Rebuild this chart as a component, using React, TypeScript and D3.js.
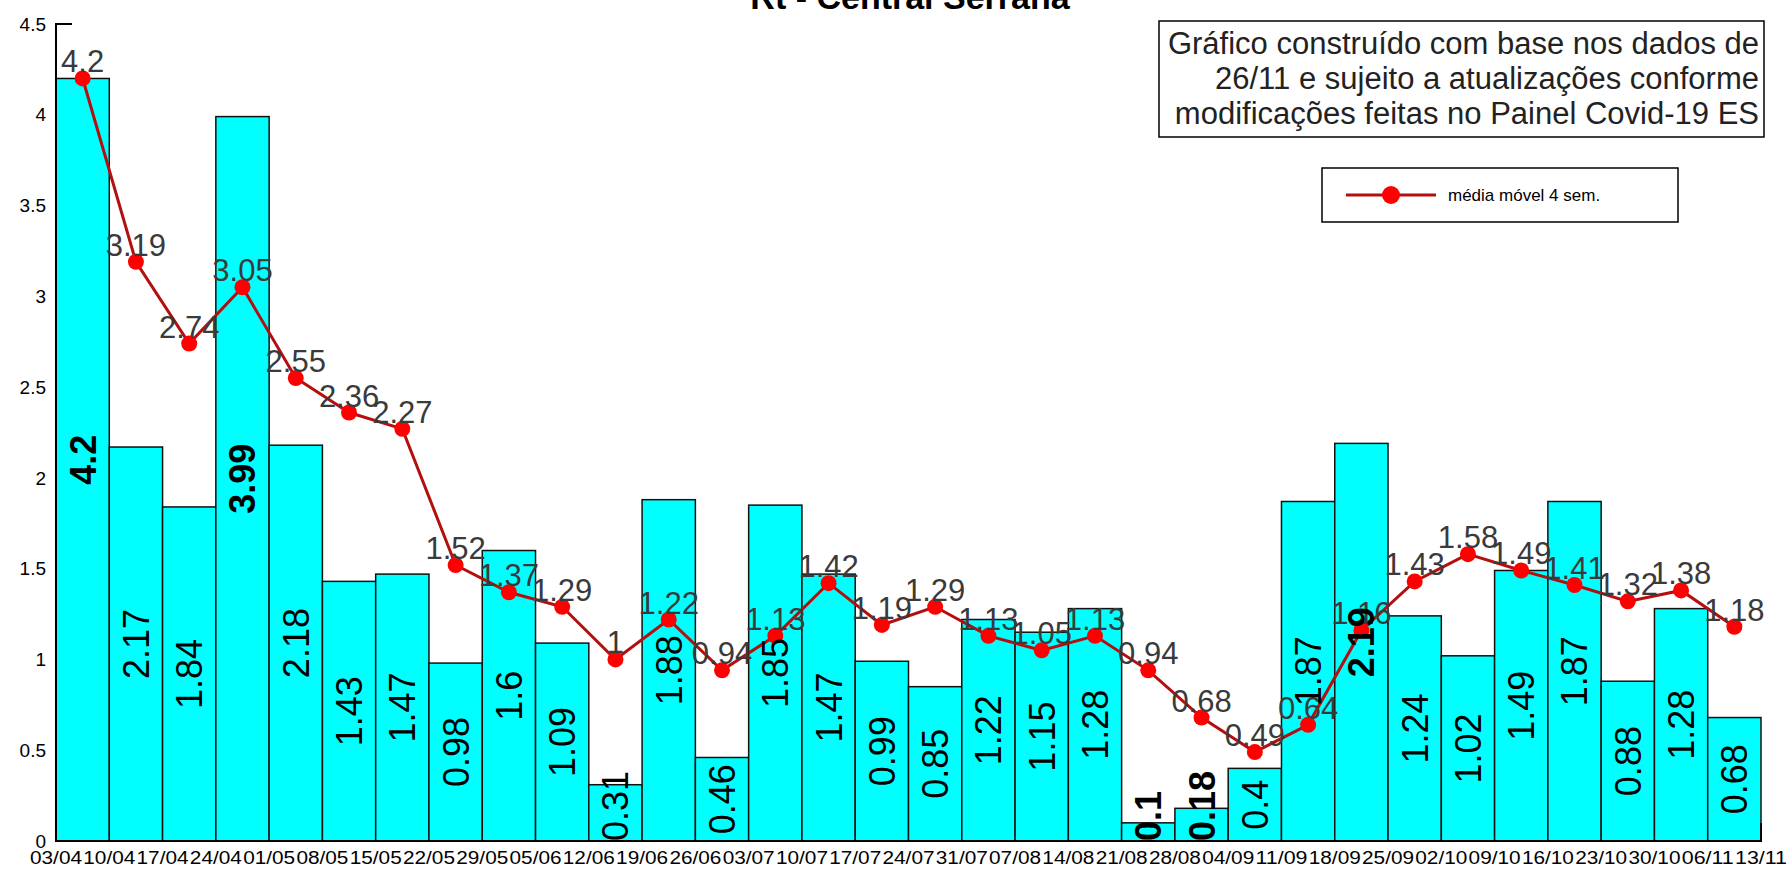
import React from "react";
import * as d3 from "d3";

const dateLabels = ["03/04","10/04","17/04","24/04","01/05","08/05","15/05","22/05","29/05","05/06","12/06","19/06","26/06","03/07","10/07","17/07","24/07","31/07","07/08","14/08","21/08","28/08","04/09","11/09","18/09","25/09","02/10","09/10","16/10","23/10","30/10","06/11","13/11"];
const weeklyRt = [4.2,2.17,1.84,3.99,2.18,1.43,1.47,0.98,1.6,1.09,0.31,1.88,0.46,1.85,1.47,0.99,0.85,1.22,1.15,1.28,0.1,0.18,0.4,1.87,2.19,1.24,1.02,1.49,1.87,0.88,1.28,0.68];
const movingAvg = [4.2,3.19,2.74,3.05,2.55,2.36,2.27,1.52,1.37,1.29,1,1.22,0.94,1.13,1.42,1.19,1.29,1.13,1.05,1.13,0.94,0.68,0.49,0.64,1.16,1.43,1.58,1.49,1.41,1.32,1.38,1.18];
const yTicks = [0,0.5,1,1.5,2,2.5,3,3.5,4,4.5];
const title = "Rt - Central Serrana";
const noteLines = ["Gráfico construído com base nos dados de","26/11 e sujeito a atualizações conforme","modificações feitas no Painel Covid-19 ES"];
const legendLabel = "média móvel 4 sem.";

const W = 1790, H = 870;
const FONT = "'Liberation Sans', Arial, sans-serif";
const boldBarLabels = new Set([0, 3, 20, 21, 24]);

export default function App() {
  const left = 56, right = 1761, top = 24, bottom = 841;
  const xb = d3.scaleLinear().domain([0, weeklyRt.length]).range([left, right]);
  const y = d3.scaleLinear().domain([0, 4.5]).range([bottom, top]);
  const cx = (i: number) => (xb(i) + xb(i + 1)) / 2;
  const line = d3.line<number>().x((_, i) => cx(i)).y((d) => y(d));
  const barFont = 36;
  const lineFont = 31;

  return (
    <svg width={W} height={H} style={{ position: "absolute", left: 0, top: 0, display: "block", background: "#fff" }} fontFamily={FONT}>
      <rect x={0} y={0} width={W} height={H} fill="#fff" />
      <text x={910} y={9} textAnchor="middle" fontWeight="bold" fontSize={34} fill="#000">{title}</text>

      {/* bars */}
      {weeklyRt.map((v, i) => (
        <rect key={"b" + i} x={xb(i)} y={y(v)} width={xb(i + 1) - xb(i)} height={bottom - y(v)} fill="#00ffff" stroke="#111" strokeWidth={1.5} />
      ))}

      {/* axes */}
      <path d={`M${left + 16},${top} H${left} V${bottom} H${right} V${bottom - 18}`} fill="none" stroke="#000" strokeWidth={2} />
      {yTicks.map((t) => (
        <text key={"yt" + t} x={46} y={y(t)} dy="0.35em" textAnchor="end" fontSize={19} fill="#000">{String(t)}</text>
      ))}
      {dateLabels.map((d, i) => (
        <text key={"xl" + i} x={xb(i)} y={864} textAnchor="middle" fontSize={18} textLength={52} lengthAdjust="spacingAndGlyphs" fill="#000">{d}</text>
      ))}

      {/* moving average line */}
      <path d={line(movingAvg) || ""} fill="none" stroke="#b40f0f" strokeWidth={3} />
      {movingAvg.map((v, i) => (
        <circle key={"m" + i} cx={cx(i)} cy={y(v)} r={8} fill="#ff0000" />
      ))}
      {movingAvg.map((v, i) => (
        <text key={"ml" + i} x={cx(i)} y={y(v) - 6} textAnchor="middle" fontSize={lineFont} fill="#3a3a3a">{String(v)}</text>
      ))}

      {/* bar labels */}
      {weeklyRt.map((v, i) => {
        const s = String(v);
        const len = (s.length - 1) * 0.556 * barFont + 0.278 * barFont;
        let mid = (y(v) + bottom) / 2;
        if (mid + len / 2 > bottom) mid = bottom - len / 2;
        return (
          <text key={"bl" + i} transform={`translate(${cx(i) + barFont * 0.36},${mid}) rotate(-90)`} textAnchor="middle" fontSize={barFont} fontWeight={boldBarLabels.has(i) ? "bold" : "normal"} fill="#000">{s}</text>
        );
      })}

      {/* note box */}
      <rect x={1159} y={21} width={605} height={116} fill="#fff" stroke="#000" strokeWidth={1.5} />
      {noteLines.map((l, i) => (
        <text key={"n" + i} x={1759} y={54 + i * 35} textAnchor="end" fontSize={31} fill="#222">{l}</text>
      ))}

      {/* legend */}
      <rect x={1322} y={168} width={356} height={54} fill="#fff" stroke="#000" strokeWidth={1.5} />
      <line x1={1346} x2={1436} y1={195} y2={195} stroke="#b40f0f" strokeWidth={3} />
      <circle cx={1391} cy={195} r={9} fill="#ff0000" />
      <text x={1448} y={195} dy="0.35em" fontSize={17} fill="#000">{legendLabel}</text>
    </svg>
  );
}
